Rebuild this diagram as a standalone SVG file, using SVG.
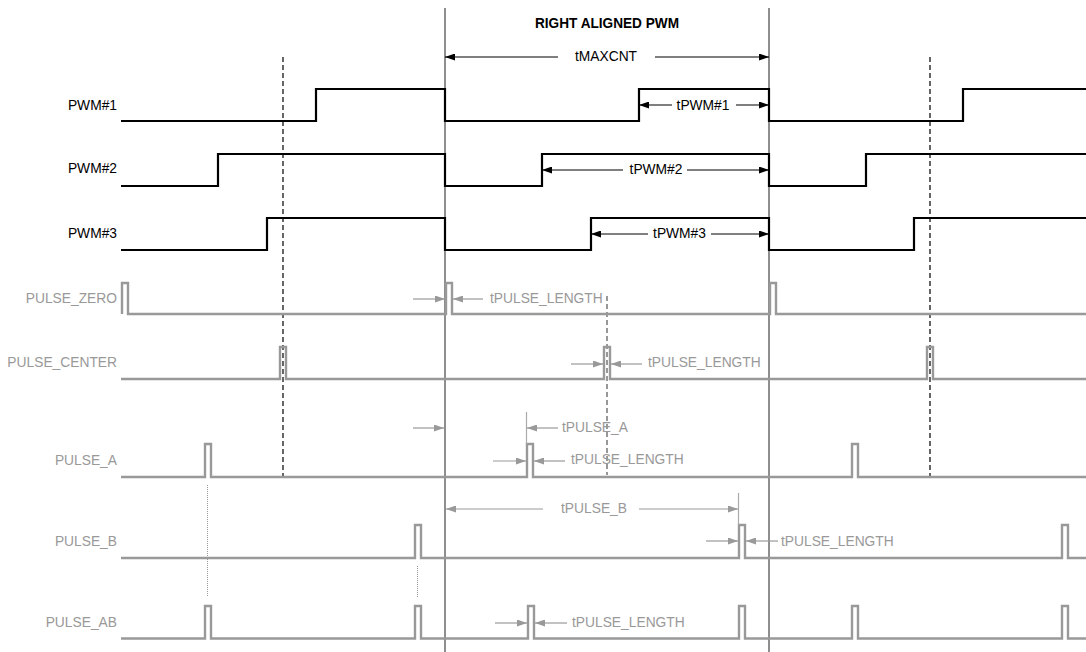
<svg xmlns="http://www.w3.org/2000/svg" width="1086" height="652" viewBox="0 0 1086 652">
<style>
  text { font-family: "Liberation Sans", Arial, sans-serif; font-size: 13.8px; }
  .lbl { text-anchor: end; }
  .blk { fill: #000; }
  .gry { fill: #999; }
  .pwm { fill: none; stroke: #000; stroke-width: 2.2; stroke-linejoin: miter; }
  .pulse { fill: none; stroke: #999; stroke-width: 2.4; stroke-linejoin: miter; }
  .vline { stroke: #444; stroke-width: 1.2; }
  .dash { stroke: #000; stroke-width: 1.2; stroke-dasharray: 5 3; }
  .dashg { stroke: #777; stroke-width: 1.5; stroke-dasharray: 5 3; }
  .dot { stroke: #999; stroke-width: 1; stroke-dasharray: 1 1; }
  .ab { stroke: #000; stroke-width: 1; marker-end: url(#ahB); }
  .ag { stroke: #999; stroke-width: 1.2; marker-end: url(#ahG); }
  .tick { stroke: #aaa; stroke-width: 1.2; }
</style>
<defs>
  <marker id="ahB" markerUnits="userSpaceOnUse" markerWidth="10" markerHeight="7" refX="10" refY="3.5" orient="auto">
    <path d="M0,0 L10,3.5 L0,7 z" fill="#000"/>
  </marker>
  <marker id="ahG" markerUnits="userSpaceOnUse" markerWidth="10" markerHeight="7" refX="10" refY="3.5" orient="auto">
    <path d="M0,0 L10,3.5 L0,7 z" fill="#999"/>
  </marker>
</defs>
<rect width="1086" height="652" fill="#fff"/>

<g id="guides">
  <line class="vline" x1="445" y1="8" x2="445" y2="652"/>
  <line class="vline" x1="769" y1="8" x2="769" y2="652"/>
  <line class="dash" x1="283" y1="57" x2="283" y2="477"/>
  <line class="dash" x1="930" y1="57" x2="930" y2="477"/>
  <line class="dashg" x1="607" y1="296" x2="607" y2="475"/>
  <line class="dot" x1="207.5" y1="485" x2="207.5" y2="597"/>
  <line class="dot" x1="417.5" y1="566" x2="417.5" y2="597"/>
</g>

<text x="607" y="28" text-anchor="middle" font-weight="bold" font-size="13" textLength="144" lengthAdjust="spacingAndGlyphs">RIGHT ALIGNED PWM</text>

<g id="pwm1">
  <text class="lbl blk" x="117" y="110">PWM#1</text>
  <path class="pwm" d="M121,121 H316 V89 H445 V121 H639 V89 H769 V121 H963 V89 H1086"/>
</g>
<g id="pwm2">
  <text class="lbl blk" x="117" y="173">PWM#2</text>
  <path class="pwm" d="M121,186 H218 V154 H445 V186 H542 V154 H769 V186 H866 V154 H1086"/>
</g>
<g id="pwm3">
  <text class="lbl blk" x="117" y="238">PWM#3</text>
  <path class="pwm" d="M121,250 H267 V218 H445 V250 H591 V218 H769 V250 H914 V218 H1086"/>
</g>
<g id="pulse_zero">
  <text class="lbl gry" x="117" y="303">PULSE_ZERO</text>
  <path class="pulse" d="M122,314 V283 H128 V314 H446 V283 H452 V314 H770 V283 H776 V314 H1086"/>
</g>
<g id="pulse_center">
  <text class="lbl gry" x="117" y="367">PULSE_CENTER</text>
  <path class="pulse" d="M121,379 H280 V347 H286 V379 H604 V347 H610 V379 H927 V347 H933 V379 H1086"/>
</g>
<g id="pulse_a">
  <text class="lbl gry" x="117" y="465">PULSE_A</text>
  <path class="pulse" d="M121,477 H205 V444 H211 V477 H527 V444 H533 V477 H852 V444 H858 V477 H1086"/>
</g>
<g id="pulse_b">
  <text class="lbl gry" x="117" y="546">PULSE_B</text>
  <path class="pulse" d="M121,558 H415 V525 H421 V558 H739 V525 H745 V558 H1062 V525 H1068 V558 H1086"/>
</g>
<g id="pulse_ab">
  <text class="lbl gry" x="117" y="627">PULSE_AB</text>
  <path class="pulse" d="M121,638.5 H205 V606 H211 V638.5 H415 V606 H421 V638.5 H528 V606 H534 V638.5 H739 V606 H745 V638.5 H852 V606 H858 V638.5 H1062 V606 H1068 V638.5 H1086"/>
</g>

<g id="connectors">
  <line class="ab" x1="558" y1="57" x2="445" y2="57"/>
  <line class="ab" x1="655" y1="57" x2="769" y2="57"/>
  <line class="ab" x1="672" y1="105" x2="639" y2="105"/>
  <line class="ab" x1="736" y1="105" x2="769" y2="105"/>
  <line class="ab" x1="623" y1="170" x2="542" y2="170"/>
  <line class="ab" x1="687" y1="170" x2="769" y2="170"/>
  <line class="ab" x1="648" y1="234" x2="591" y2="234"/>
  <line class="ab" x1="711" y1="234" x2="769" y2="234"/>

  <line class="ag" x1="413" y1="299" x2="445" y2="299"/>
  <line class="ag" x1="483" y1="299" x2="453" y2="299"/>
  <line class="ag" x1="571" y1="364" x2="603" y2="364"/>
  <line class="ag" x1="642" y1="364" x2="611" y2="364"/>
  <line class="ag" x1="413" y1="428" x2="444" y2="428"/>
  <line class="tick" x1="526.5" y1="412" x2="526.5" y2="444"/>
  <line class="ag" x1="558" y1="428" x2="527" y2="428"/>
  <line class="ag" x1="493" y1="461" x2="526" y2="461"/>
  <line class="ag" x1="565" y1="461" x2="534" y2="461"/>
  <line class="ag" x1="543" y1="509" x2="446" y2="509"/>
  <line class="tick" x1="738.5" y1="493" x2="738.5" y2="525"/>
  <line class="ag" x1="639" y1="509" x2="738" y2="509"/>
  <line class="ag" x1="706" y1="541" x2="738" y2="541"/>
  <line class="ag" x1="778" y1="541" x2="746" y2="541"/>
  <line class="ag" x1="495" y1="623" x2="527" y2="623"/>
  <line class="ag" x1="567" y1="623" x2="535" y2="623"/>
</g>

<g id="labels">
  <text class="blk" x="606" y="61" text-anchor="middle">tMAXCNT</text>
  <text class="blk" x="703" y="110" text-anchor="middle">tPWM#1</text>
  <text class="blk" x="656" y="174" text-anchor="middle">tPWM#2</text>
  <text class="blk" x="679.5" y="238" text-anchor="middle">tPWM#3</text>
  <text class="gry" x="490" y="303">tPULSE_LENGTH</text>
  <text class="gry" x="648" y="367">tPULSE_LENGTH</text>
  <text class="gry" x="562" y="432">tPULSE_A</text>
  <text class="gry" x="571" y="464">tPULSE_LENGTH</text>
  <text class="gry" x="594" y="513" text-anchor="middle">tPULSE_B</text>
  <text class="gry" x="781" y="546">tPULSE_LENGTH</text>
  <text class="gry" x="572" y="627">tPULSE_LENGTH</text>
</g>
</svg>
